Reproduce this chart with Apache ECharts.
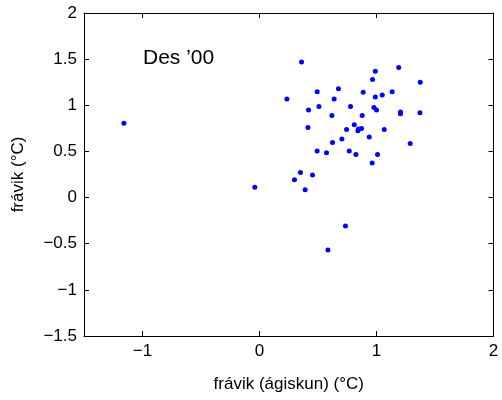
<!DOCTYPE html>
<html>
<head>
<meta charset="utf-8">
<script src="https://cdn.jsdelivr.net/npm/echarts@6/dist/echarts.min.js"></script>
<style>
  html, body { margin: 0; padding: 0; background: #fff; }
  #chart { width: 502px; height: 400px; }
</style>
</head>
<body>
<div id="chart"></div>
<script>
// Observed anomaly vs. estimated anomaly, December 2000
const xValues = [
  0.359, 0.99, 1.19, 0.966, 0.675, 0.493, 0.886, 0.234, 0.638, 0.99,
  1.049, 1.134, 0.419, 0.508, 0.778, 0.978, 1.0, 1.205, 1.205, 0.619,
  0.878, 0.414, 0.81, 0.846, 0.872, 0.841, 0.744, 1.066, 0.938, 0.704,
  0.624, 0.493, 0.573, 0.767, 0.824, 1.009, 0.963, 1.374, 1.371, 1.288,
  -1.159, -0.04, 0.35, 0.299, 0.453, 0.39, 0.735, 0.585
];
const yValues = [
  1.47, 1.37, 1.41, 1.28, 1.18, 1.147, 1.14, 1.067, 1.067, 1.089,
  1.111, 1.147, 0.948, 0.988, 0.988, 0.977, 0.948, 0.926, 0.907, 0.89,
  0.89, 0.76, 0.788, 0.744, 0.749, 0.723, 0.738, 0.738, 0.657, 0.636,
  0.596, 0.505, 0.487, 0.505, 0.466, 0.466, 0.374, 1.249, 0.918, 0.585,
  0.806, 0.113, 0.273, 0.194, 0.244, 0.085, -0.307, -0.568
];
const xTicks = [-1, 0, 1, 2];
const panelLabel = 'Des \u201900';
const xTitle = 'frávik (ágiskun) (°C)';
const yTitle = 'frávik (°C)';

const points = xValues.map((x, i) => [x, yValues[i]]);
const fmt = v => String(v).replace('-', '\u2212');
const font = 'Liberation Sans, Arial, sans-serif';

const lineStyle = { color: '#000', width: 1 };
const tickStyle = { show: true, inside: true, length: 5, lineStyle: lineStyle };

const chart = echarts.init(document.getElementById('chart'));
chart.setOption({
  animation: false,
  backgroundColor: '#fff',
  grid: { left: 84, top: 13, right: 8.5, bottom: 64, containLabel: false },
  xAxis: [
    {
      type: 'value', min: -1.5, max: 2, position: 'bottom',
      axisLine: { show: true, onZero: false, lineStyle: lineStyle },
      axisTick: Object.assign({ customValues: xTicks }, tickStyle),
      axisLabel: { customValues: xTicks, formatter: fmt, color: '#000', fontSize: 17, fontFamily: font, margin: 7 },
      splitLine: { show: false },
      name: xTitle, nameLocation: 'middle', nameGap: 40,
      nameTextStyle: { color: '#000', fontSize: 17, fontFamily: font }
    },
    {
      type: 'value', min: -1.5, max: 2, position: 'top',
      axisLine: { show: true, onZero: false, lineStyle: lineStyle },
      axisTick: Object.assign({ customValues: xTicks }, tickStyle),
      axisLabel: { show: false },
      splitLine: { show: false }
    }
  ],
  yAxis: [
    {
      type: 'value', min: -1.5, max: 2, interval: 0.5, position: 'left',
      axisLine: { show: true, onZero: false, lineStyle: lineStyle },
      axisTick: tickStyle,
      axisLabel: { formatter: fmt, color: '#000', fontSize: 17, fontFamily: font, margin: 7 },
      splitLine: { show: false },
      name: yTitle, nameLocation: 'middle', nameGap: 57,
      nameTextStyle: { color: '#000', fontSize: 17, fontFamily: font }
    },
    {
      type: 'value', min: -1.5, max: 2, interval: 0.5, position: 'right',
      axisLine: { show: true, onZero: false, lineStyle: lineStyle },
      axisTick: tickStyle,
      axisLabel: { show: false },
      splitLine: { show: false }
    }
  ],
  graphic: [{
    type: 'text', left: 143, top: 48,
    style: { text: panelLabel, fill: '#000', fontSize: 21, fontFamily: font }
  }],
  series: [{
    type: 'scatter',
    xAxisIndex: 0, yAxisIndex: 0,
    data: points,
    symbol: 'circle',
    symbolSize: 5,
    itemStyle: { color: '#0000ff', opacity: 1 }
  }]
});
</script>
</body>
</html>
